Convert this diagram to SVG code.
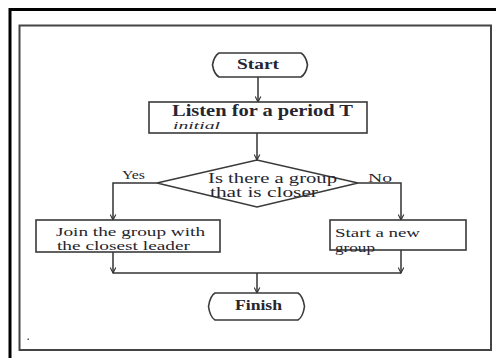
<svg xmlns="http://www.w3.org/2000/svg" width="496" height="358" viewBox="0 0 496 358">
<defs>
<marker id="arr" viewBox="0 0 10 10" refX="9" refY="5" markerWidth="7" markerHeight="7" orient="auto" markerUnits="userSpaceOnUse">
<path d="M1,1 L9,5 L1,9" fill="none" stroke="#333" stroke-width="1.6"/>
</marker>
<style>
.box{fill:#fff;stroke:#3a3a3a;stroke-width:1.6}
.ln{fill:none;stroke:#333;stroke-width:1.5}
.t{font-family:"Liberation Serif","Times New Roman",serif;fill:#262630}
.b{font-weight:bold}
</style>
</defs>
<rect width="496" height="358" fill="#fff"/>
<path d="M10,358 V9.5 H496" fill="none" stroke="#000" stroke-width="3"/>
<rect x="19.5" y="25.5" width="471.5" height="324.5" fill="none" stroke="#444" stroke-width="2"/>
<rect x="27.5" y="338.5" width="1.5" height="1.5" fill="#555"/>

<g id="connectors">
<line class="ln" x1="258" y1="77" x2="258" y2="102" marker-end="url(#arr)"/>
<line class="ln" x1="257" y1="133" x2="257" y2="160" marker-end="url(#arr)"/>
<polyline class="ln" points="157,183 113,183 113,220" marker-end="url(#arr)"/>
<polyline class="ln" points="358,183 401,183 401,220" marker-end="url(#arr)"/>
<line class="ln" x1="113" y1="252" x2="113" y2="273" marker-end="url(#arr)"/>
<line class="ln" x1="401" y1="250" x2="401" y2="273" marker-end="url(#arr)"/>
<line class="ln" x1="113" y1="273" x2="401" y2="273"/>
<line class="ln" x1="257" y1="273" x2="257" y2="293" marker-end="url(#arr)"/>
<text class="t" x="122" y="179" font-size="13" textLength="23" lengthAdjust="spacingAndGlyphs">Yes</text>
<text class="t" x="368" y="182" font-size="13" textLength="24" lengthAdjust="spacingAndGlyphs">No</text>
</g>

<g id="start">
<path class="box" d="M219,53 H301 Q306,56 307.5,65 Q306,74 301,77 H219 Q214,74 212.5,65 Q214,56 219,53 Z"/>
<text class="t b" x="237" y="69" font-size="14" textLength="42" lengthAdjust="spacingAndGlyphs">Start</text>
</g>

<g id="listen">
<rect class="box" x="149" y="102" width="218" height="31"/>
<text class="t b" x="172" y="116" font-size="16" textLength="181" lengthAdjust="spacingAndGlyphs">Listen for a period T</text>
<text class="t" x="173" y="129" font-size="11" font-style="italic" textLength="47" lengthAdjust="spacingAndGlyphs">initial</text>
</g>

<g id="decision">
<polygon class="box" points="157,183 257,160 358,183 257,207"/>
<text class="t" x="208" y="183" font-size="14" textLength="129" lengthAdjust="spacingAndGlyphs">Is there a group</text>
<text class="t" x="210" y="197" font-size="14" textLength="108" lengthAdjust="spacingAndGlyphs">that is closer</text>
</g>

<g id="join">
<rect class="box" x="36" y="220" width="184" height="32"/>
<text class="t" x="56" y="236" font-size="12" textLength="149" lengthAdjust="spacingAndGlyphs">Join the group with</text>
<text class="t" x="57" y="250" font-size="12" textLength="133" lengthAdjust="spacingAndGlyphs">the closest leader</text>
</g>

<g id="newgroup">
<rect class="box" x="330" y="220" width="136" height="30"/>
<text class="t" x="335" y="237" font-size="12" textLength="85" lengthAdjust="spacingAndGlyphs">Start a new</text>
<text class="t" x="335" y="252" font-size="12" textLength="40" lengthAdjust="spacingAndGlyphs">group</text>
</g>

<g id="finish">
<path class="box" d="M215,293 H298 Q303,296 304.5,306.5 Q303,317 298,320 H215 Q210,317 208.5,306.5 Q210,296 215,293 Z"/>
<text class="t b" x="235" y="310" font-size="14" textLength="47" lengthAdjust="spacingAndGlyphs">Finish</text>
</g>
</svg>
